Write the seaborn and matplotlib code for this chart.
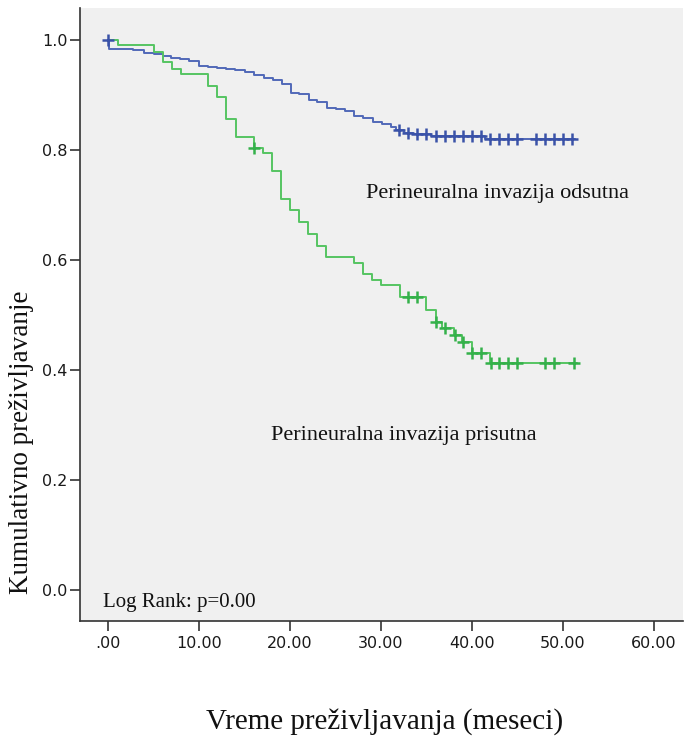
import numpy as np
import pandas as pd
import matplotlib
matplotlib.use("Agg")
import matplotlib.pyplot as plt
import seaborn as sns

# Kaplan-Meier steps: time (months) and cumulative survival after each event
odsutna_t = [0.0, 0.1, 2.8, 4.0, 5.0, 6.0, 6.9, 7.9, 8.9, 10.0, 11.0, 12.0, 13.0, 14.0,
             15.05, 16.0, 17.1, 18.1, 19.1, 20.1, 21.0, 22.1, 23.0, 24.1, 25.05, 26.0,
             27.0, 28.05, 29.1, 30.1, 31.1, 31.7, 32.5, 33.5, 35.5, 41.4, 51.3]
odsutna_s = [1.000, 0.984, 0.981, 0.977, 0.974, 0.971, 0.968, 0.965, 0.962, 0.953, 0.950,
             0.949, 0.947, 0.945, 0.941, 0.936, 0.930, 0.927, 0.919, 0.904, 0.901, 0.891,
             0.888, 0.877, 0.874, 0.871, 0.862, 0.858, 0.850, 0.847, 0.842, 0.836, 0.831,
             0.829, 0.826, 0.820, 0.820]
odsutna_cens = [0.0, 32.0, 33.0, 34.0, 35.0, 36.0, 37.0, 38.0, 39.0, 40.0, 41.0, 42.0,
                43.0, 44.0, 45.0, 47.0, 48.0, 49.0, 50.0, 51.0]

prisutna_t = [0.0, 1.1, 5.1, 6.0, 7.0, 8.0, 11.0, 12.0, 13.0, 14.1, 16.0, 17.0, 18.05,
              19.0, 20.0, 21.0, 22.0, 23.0, 24.0, 27.0, 28.0, 29.0, 30.0, 32.1, 35.0,
              36.0, 36.7, 38.0, 38.9, 40.0, 42.0, 51.5]
prisutna_s = [1.000, 0.990, 0.978, 0.959, 0.948, 0.938, 0.917, 0.897, 0.856, 0.824, 0.804,
              0.794, 0.762, 0.710, 0.690, 0.669, 0.647, 0.626, 0.606, 0.595, 0.575, 0.564,
              0.555, 0.533, 0.510, 0.488, 0.477, 0.464, 0.451, 0.431, 0.412, 0.412]
prisutna_cens = [16.05, 33.0, 34.0, 36.0, 37.0, 38.1, 39.0, 40.05, 41.0, 42.05, 43.0,
                 44.0, 45.0, 48.0, 49.0, 51.2]

x_ticks = [0, 10, 20, 30, 40, 50, 60]
x_tick_labels = [".00", "10.00", "20.00", "30.00", "40.00", "50.00", "60.00"]
y_ticks = [0.0, 0.2, 0.4, 0.6, 0.8, 1.0]
y_tick_labels = ["0.0", "0.2", "0.4", "0.6", "0.8", "1.0"]

BLUE = "#5169b8"
BLUE_DARK = "#3a52a8"
GREEN = "#55c462"
GREEN_DARK = "#34b14a"


def censor_points(times, surv, cens):
    idx = np.searchsorted(times, cens, side="right") - 1
    return pd.DataFrame({"t": cens, "s": np.asarray(surv)[idx]})


sns.set_style("white")
plt.rcParams["font.family"] = ["DejaVu Sans"]

fig = plt.figure(figsize=(6.84, 7.39), dpi=100)
fig.patch.set_facecolor("white")
ax = fig.add_axes([80 / 684, 1 - 621 / 739, 603 / 684, (621 - 8) / 739])
ax.set_facecolor("#f0f0f0")

curves = [
    (odsutna_t, odsutna_s, odsutna_cens, BLUE, BLUE_DARK),
    (prisutna_t, prisutna_s, prisutna_cens, GREEN, GREEN_DARK),
]
for t, s, c, col, ccol in curves:
    df = pd.DataFrame({"t": t, "s": s})
    sns.lineplot(data=df, x="t", y="s", ax=ax, color=col, linewidth=1.4,
                 drawstyle="steps-post", estimator=None, sort=False)
    cp = censor_points(t, s, c)
    sns.scatterplot(data=cp, x="t", y="s", ax=ax, marker="+", s=80,
                    color=ccol, linewidth=1.8, zorder=3)

ax.set_xlim(-3.08, 63.2)
ax.set_ylim(-0.056, 1.058)
ax.set_xticks(x_ticks)
ax.set_xticklabels(x_tick_labels)
ax.set_yticks(y_ticks)
ax.set_yticklabels(y_tick_labels)
ax.tick_params(axis="both", which="major", bottom=True, left=True, direction="out",
               length=7, width=1.2, color="#333333", labelsize=11.5,
               labelcolor="#1a1a1a", pad=2)
ax.tick_params(axis="x", pad=4)
ax.set_xlabel("")
ax.set_ylabel("")
for side in ["top", "right"]:
    ax.spines[side].set_visible(False)
for side in ["left", "bottom"]:
    ax.spines[side].set_color("#333333")
    ax.spines[side].set_linewidth(1.2)

serif = ["Liberation Serif", "DejaVu Serif"]
ax.text(28.4, 0.72, "Perineuralna invazija odsutna", family=serif, fontsize=16,
        color="#111111", va="center", ha="left")
ax.text(17.9, 0.281, "Perineuralna invazija prisutna", family=serif, fontsize=16,
        color="#111111", va="center", ha="left")
ax.text(-0.6, -0.022, "Log Rank: p=0.00", family=serif, fontsize=15,
        color="#111111", va="center", ha="left")

fig.text(385 / 684, 1 - 722 / 739, "Vreme preživljavanja (meseci)", family=serif,
         fontsize=21, ha="center", va="center", color="#111111")
fig.text(22 / 684, 1 - 442 / 739, "Kumulativno preživljavanje", family=serif,
         fontsize=19.5, rotation=90, ha="center", va="center", color="#111111")

fig.savefig("out.png", dpi=100, facecolor="white")
